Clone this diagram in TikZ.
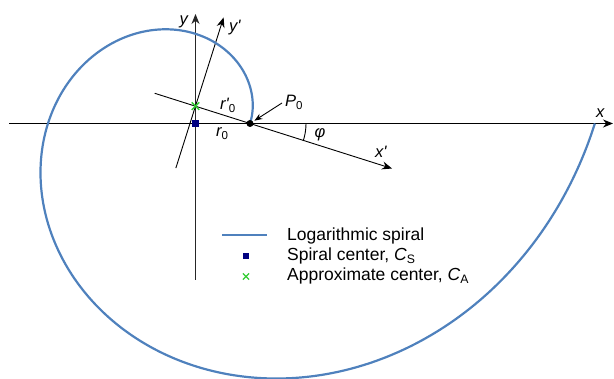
\documentclass[tikz,border=0pt]{standalone}
\usepackage{fontspec}
\setmainfont{Liberation Sans}
\usetikzlibrary{arrows.meta,calc,shapes.misc}
\definecolor{spiralblue}{HTML}{4F81BD}
\definecolor{cgreen}{HTML}{33CC33}
\definecolor{cnavy}{HTML}{000080}
\begin{document}
\begin{tikzpicture}[x=1pt,y=1pt,
  axis/.style={line width=0.9pt, -{Stealth[length=10pt,width=8pt]}},
  ln/.style={line width=0.9pt},
  lbl/.style={font=\fontsize{16.5}{18}\selectfont\itshape, inner sep=0pt, anchor=base west},
  leg/.style={font=\fontsize{17.5}{20}\selectfont, inner sep=0pt, anchor=base west},
  spiral/.style={spiralblue, line width=2.2pt},
  xmark/.style={cross out, draw=cgreen, line width=1.5pt, minimum size=6pt, inner sep=0pt},
  sq/.style={fill=cnavy, minimum size=7pt, inner sep=0pt}
]
\useasboundingbox (0,0) rectangle (614,-379);
% key points
\coordinate (CS) at (195.5,-123.5);
\coordinate (CA) at (195.5,-106.1);
\coordinate (xl) at (9,-123.5);
\coordinate (xr) at (613,-123.5);
\coordinate (yb) at (195.5,-280);
\coordinate (yt) at (195.5,-14);
\coordinate (xps) at ($(250,-123.5)+(162.41:100)$);
\coordinate (xpe) at ($(250,-123.5)+(-17.59:149)$);
\coordinate (yps) at ($(CA)+(252.41:65)$);
\coordinate (ype) at ($(CA)+(72.41:93)$);
% axes
\draw[axis] (xl) -- (xr);
\draw[axis, black!85] (yb) -- (yt);
\draw[axis] (xps) -- (xpe);
\draw[axis] (yps) -- (ype);
% spiral
\draw[spiral] plot[domain=0:360, samples=240, smooth, variable=\t]
  ({195.5+54.5*exp(0.317*\t/57.29578)*cos(\t)}, {-123.5+54.5*exp(0.317*\t/57.29578)*sin(\t)});
% markers
\node[sq] (csq) at (CS) {};
\node[xmark] (cax) at (CA) {};
\node[circle, fill=black, minimum size=7pt, inner sep=0pt] (P0) at (250,-123.5) {};
% angle
\draw[ln] ($(P0)+(0:56)$) arc[start angle=0, end angle=-17.59, radius=56];
\node[font=\fontsize{16.5}{18}\selectfont\itshape, inner sep=0pt] (phi) at (320,-135) {φ};
% P0 arrow
\coordinate (parr) at (282,-103);
\draw[ln, -{Stealth[length=8pt,width=6pt]}, shorten >=1.5pt] (parr) -- (P0);
% labels
\node[lbl] (ly) at (179.5,-25) {y};
\node[lbl] (lyp) at (229,-32) {y\textquotesingle};
\node[lbl] (lrp) at (220,-110) {r\textquotesingle\textsubscript{\upshape 0}};
\node[lbl] (lr) at (216,-136.5) {r\textsubscript{\upshape 0}};
\node[lbl] (lP) at (285,-106.5) {P\textsubscript{\upshape 0}};
\node[lbl] (lxp) at (375,-158) {x\textquotesingle};
\node[lbl] (lx) at (596,-118) {x};
% legend
\coordinate (lga) at (222,-235);
\coordinate (lgb) at (267,-235);
\draw[spiral] (lga) -- (lgb);
\node[fill=cnavy, minimum size=5.5pt, inner sep=0pt] (lsq) at (246,-256) {};
\node[cross out, draw=cgreen, line width=1.2pt, minimum size=5pt, inner sep=0pt] (lx2) at (246,-276.5) {};
\node[leg] (t1) at (287,-241) {Logarithmic spiral};
\node[leg] (t2) at (287,-261) {Spiral center, \textit{C}\textsubscript{S}};
\node[leg] (t3) at (287,-281) {Approximate center, \textit{C}\textsubscript{A}};
\end{tikzpicture}
\end{document}
